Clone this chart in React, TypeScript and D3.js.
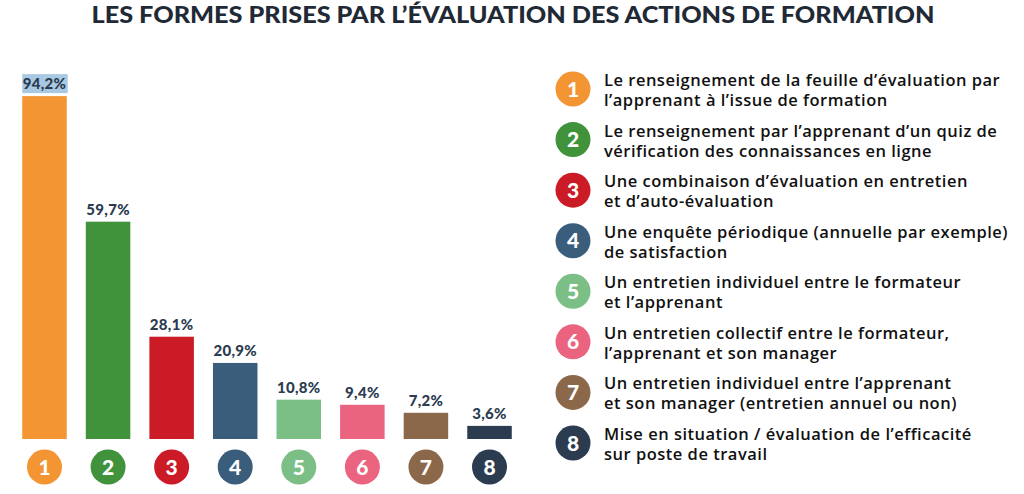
import React from "react";
import * as d3 from "d3";

const categories = ["1", "2", "3", "4", "5", "6", "7", "8"];
const values = [94.2, 59.7, 28.1, 20.9, 10.8, 9.4, 7.2, 3.6];
const valueLabels = ["94,2%", "59,7%", "28,1%", "20,9%", "10,8%", "9,4%", "7,2%", "3,6%"];
const colors = ["#f39533", "#41933b", "#cb1b27", "#3a5d7b", "#7bbf87", "#ea637f", "#8b684a", "#2b3b50"];
const legendLines = [
  ["Le renseignement de la feuille d’évaluation par", "l’apprenant à l’issue de formation"],
  ["Le renseignement par l’apprenant d’un quiz de", "vérification des connaissances en ligne"],
  ["Une combinaison d’évaluation en entretien", "et d’auto-évaluation"],
  ["Une enquête périodique (annuelle par exemple)", "de satisfaction"],
  ["Un entretien individuel entre le formateur", "et l’apprenant"],
  ["Un entretien collectif entre le formateur,", "l’apprenant et son manager"],
  ["Un entretien individuel entre l’apprenant", "et son manager (entretien annuel ou non)"],
  ["Mise en situation / évaluation de l’efficacité", "sur poste de travail"],
];
const title = "LES FORMES PRISES PAR L’ÉVALUATION DES ACTIONS DE FORMATION";

export default function App() {
  const W = 1024, H = 494;
  const x = d3.scaleBand().domain(categories).range([12.7, 521.3]).paddingInner(0.3).paddingOuter(0.15);
  const baseline = 439;
  const y = d3.scaleLinear().domain([0, 100]).range([baseline, baseline - 364]);
  const legendY = d3.scalePoint().domain(categories).range([89, 443]);
  return (
    <svg width={W} height={H} style={{ position: "absolute", left: 0, top: 0, background: "#fff" }}>
      <text x={513} y={23} textAnchor="middle" fontFamily="Lato" fontWeight={900} fontSize={22}
        fill="#1f2a36" textLength={843} lengthAdjust="spacingAndGlyphs">{title}</text>
      {categories.map((c, i) => {
        const bx = x(c)!;
        const bw = x.bandwidth();
        const cx = bx + bw / 2;
        const top = y(values[i]);
        return (
          <g key={c}>
            {i === 0 && (
              <rect x={bx} y={top - 22} width={bw + 1} height={19} fill="#a9c9e2" />
            )}
            <rect x={bx} y={top} width={bw} height={baseline - top} fill={colors[i]} />
            <text x={cx} y={top - 7} textAnchor="middle" fontFamily="Lato" fontWeight={900}
              fontSize={15} letterSpacing={0.3} fill="#2b3b50">{valueLabels[i]}</text>
            <circle cx={cx} cy={467} r={17.5} fill={colors[i]} />
            <text x={cx} y={467} dy="0.36em" textAnchor="middle" fontFamily="Lato" fontWeight={900}
              fontSize={21} fill="#fff">{c}</text>
          </g>
        );
      })}
      {categories.map((c, i) => {
        const cy = legendY(c)!;
        return (
          <g key={"l" + c}>
            <circle cx={573} cy={cy} r={17.5} fill={colors[i]} />
            <text x={573} y={cy} dy="0.36em" textAnchor="middle" fontFamily="Lato" fontWeight={900}
              fontSize={21} fill="#fff">{c}</text>
            {legendLines[i].map((ln, j) => (
              <text key={j} x={604} y={cy - 3 + j * 20} fontFamily="Open Sans" fontWeight={600}
                fontSize={16.5} letterSpacing={0.5} fill="#111">{ln}</text>
            ))}
          </g>
        );
      })}
    </svg>
  );
}
